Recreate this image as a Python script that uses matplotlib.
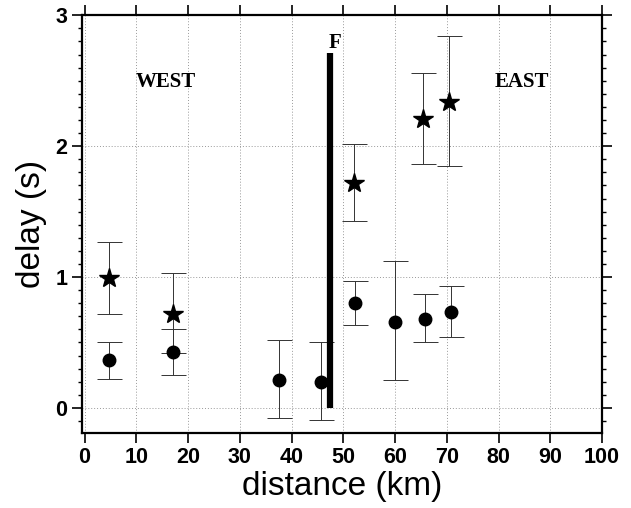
import matplotlib.pyplot as plt
from matplotlib.ticker import MultipleLocator

# star series (upper delays)
star_x = [4.8, 17.0, 52.0, 65.4, 70.4]
star_y = [0.99, 0.72, 1.72, 2.21, 2.34]
star_lo = [0.72, 0.42, 1.43, 1.86, 1.85]
star_hi = [1.27, 1.03, 2.02, 2.56, 2.84]

# circle series (lower delays)
dot_x = [4.8, 17.0, 37.5, 45.6, 52.2, 60.0, 65.8, 70.8]
dot_y = [0.37, 0.43, 0.21, 0.20, 0.80, 0.66, 0.68, 0.73]
dot_lo = [0.22, 0.25, -0.08, -0.09, 0.63, 0.21, 0.50, 0.54]
dot_hi = [0.50, 0.60, 0.52, 0.50, 0.97, 1.12, 0.87, 0.93]

fault_x = 47.4
fault_top = 2.71

fig = plt.figure(figsize=(6.31, 5.08), dpi=100)
ax = fig.add_axes([0.130, 0.148, 0.824, 0.822])

ax.grid(True, color="0.6", linestyle=(0, (1, 2)), linewidth=0.7)
ax.set_axisbelow(True)

for xs, ys, lo, hi, mk, ms in [(star_x, star_y, star_lo, star_hi, "*", 15),
                               (dot_x, dot_y, dot_lo, dot_hi, "o", 9)]:
    yerr = [[y - l for y, l in zip(ys, lo)], [h - y for y, h in zip(ys, hi)]]
    ax.errorbar(xs, ys, yerr=yerr, fmt=mk, color="black", markersize=ms,
                ecolor="0.2", elinewidth=0.7, capsize=9, capthick=0.7, zorder=3)

ax.plot([fault_x, fault_x], [0, fault_top], color="black", linewidth=4.5,
        solid_capstyle="butt", zorder=4)

serif = ["Liberation Serif", "DejaVu Serif"]
ax.text(fault_x + 1.0, 2.79, "F", family=serif, fontweight="bold", fontsize=15,
        ha="center", va="center")
ax.text(15.7, 2.49, "WEST", family=serif, fontweight="bold", fontsize=15,
        ha="center", va="center")
ax.text(84.5, 2.49, "EAST", family=serif, fontweight="bold", fontsize=15,
        ha="center", va="center")

ax.set_xlim(-0.5, 100)
ax.set_ylim(-0.19, 3)
ax.xaxis.set_major_locator(MultipleLocator(10))
ax.yaxis.set_major_locator(MultipleLocator(1))
ax.yaxis.set_minor_locator(MultipleLocator(0.1))

sans = ["Liberation Sans", "DejaVu Sans"]
ax.tick_params(axis="both", which="major", direction="out", length=7, width=1.2,
               labelsize=15.5, top=True, right=True)
ax.tick_params(axis="y", which="minor", direction="out", length=3, width=1,
               left=True, right=True)
for lab in ax.get_xticklabels() + ax.get_yticklabels():
    lab.set_family(sans)
    lab.set_fontweight("bold")
for s in ax.spines.values():
    s.set_linewidth(1.6)

ax.set_xlabel("distance (km)", family=sans, fontsize=24, labelpad=2)
ax.set_ylabel("delay (s)", family=sans, fontsize=24, labelpad=6)

fig.savefig("out.png", dpi=100)
